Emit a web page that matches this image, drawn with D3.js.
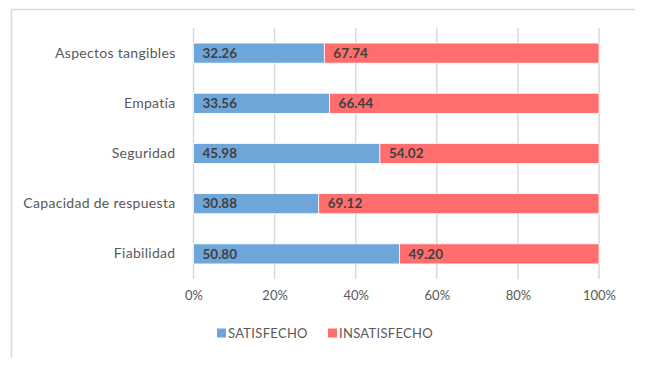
<!DOCTYPE html>
<html lang="es">
<head>
  <meta charset="UTF-8" />
  <title>Satisfacción por dimensión</title>
  <script src="https://d3js.org/d3.v7.min.js"></script>
  <style>
    body { margin: 0; background: #fff; }
    svg { display: block; font-family: Lato, "Open Sans", sans-serif; }
  </style>
</head>
<body>
  <script>
    // data
    const categories = ['Aspectos tangibles', 'Empatía', 'Seguridad', 'Capacidad de respuesta', 'Fiabilidad'];
    const satisfecho = [32.26, 33.56, 45.98, 30.88, 50.80];
    const insatisfecho = [67.74, 66.44, 54.02, 69.12, 49.20];
    const ticks = [0, 20, 40, 60, 80, 100];
    const seriesNames = ['SATISFECHO', 'INSATISFECHO'];
    const colors = ['#6fa6d9', '#ff6d6d'];

    const W = 649, H = 367;
    const x0 = 193.5, x1 = 599, yTop = 28, yBot = 279;

    const svg = d3.select('body').append('svg')
      .attr('width', W).attr('height', H);

    // chart frame: only top and left edges show
    svg.append('path')
      .attr('d', 'M11.5,358 V9.5 H635')
      .attr('fill', 'none').attr('stroke', '#d9d9d9').attr('stroke-width', 1.5);

    const x = d3.scaleLinear().domain([0, 100]).range([x0, x1]);
    const y = d3.scaleBand().domain(categories).range([yTop, yBot]).paddingInner(0.6).paddingOuter(0.3);

    // gridlines
    svg.append('g').selectAll('line')
      .data(ticks)
      .join('line')
      .attr('x1', d => x(d)).attr('x2', d => x(d))
      .attr('y1', yTop).attr('y2', yBot)
      .attr('stroke', '#d9d9d9').attr('stroke-width', 1.5);

    // x axis labels
    const xAxis = d3.axisBottom(x).tickValues(ticks).tickFormat(d => d + '%').tickSize(0).tickPadding(12);
    const gx = svg.append('g').attr('transform', `translate(0,${yBot})`).call(xAxis);
    gx.select('.domain').remove();
    gx.selectAll('text').attr('fill', '#595959').style('font-size', '13px').style('font-family', 'Lato, sans-serif');

    // y axis labels
    const yAxis = d3.axisLeft(y).tickSize(0).tickPadding(18);
    const gy = svg.append('g').attr('transform', `translate(${x0},0)`).call(yAxis);
    gy.select('.domain').remove();
    gy.selectAll('text').attr('fill', '#595959')
      .style('font-size', '14px').style('letter-spacing', '0.3px')
      .style('font-family', 'Lato, sans-serif');

    // stacked bars
    const rows = categories.map((c, i) => ({ cat: c, vals: [satisfecho[i], insatisfecho[i]] }));
    const stack = d3.stack().keys([0, 1]).value((d, k) => d.vals[k]);
    const layers = stack(rows);

    const gl = svg.append('g').selectAll('g')
      .data(layers)
      .join('g')
      .attr('fill', (d, i) => colors[i]);

    gl.selectAll('rect')
      .data(d => d)
      .join('rect')
      .attr('x', d => x(d[0]))
      .attr('y', d => y(d.data.cat))
      .attr('width', d => x(d[1]) - x(d[0]))
      .attr('height', y.bandwidth())
      .attr('stroke', '#fff').attr('stroke-width', 0.75);

    gl.selectAll('text')
      .data(d => d)
      .join('text')
      .attr('x', d => x(d[0]) + 9)
      .attr('y', d => y(d.data.cat) + y.bandwidth() / 2)
      .attr('dy', '0.35em')
      .attr('fill', '#404040')
      .style('font-size', '13.5px')
      .style('font-weight', 'bold')
      .text(d => (d[1] - d[0]).toFixed(2));

    // legend
    const legendX = [217, 328];
    const lg = svg.append('g').selectAll('g')
      .data(seriesNames)
      .join('g')
      .attr('transform', (d, i) => `translate(${legendX[i]},333)`);
    lg.append('rect').attr('x', 0).attr('y', -4.5).attr('width', 9).attr('height', 9)
      .attr('fill', (d, i) => colors[i]);
    lg.append('text').attr('x', 11).attr('dy', '0.35em')
      .attr('fill', '#595959').style('font-size', '13px').style('letter-spacing', '0.3px')
      .text(d => d);
  </script>
</body>
</html>
